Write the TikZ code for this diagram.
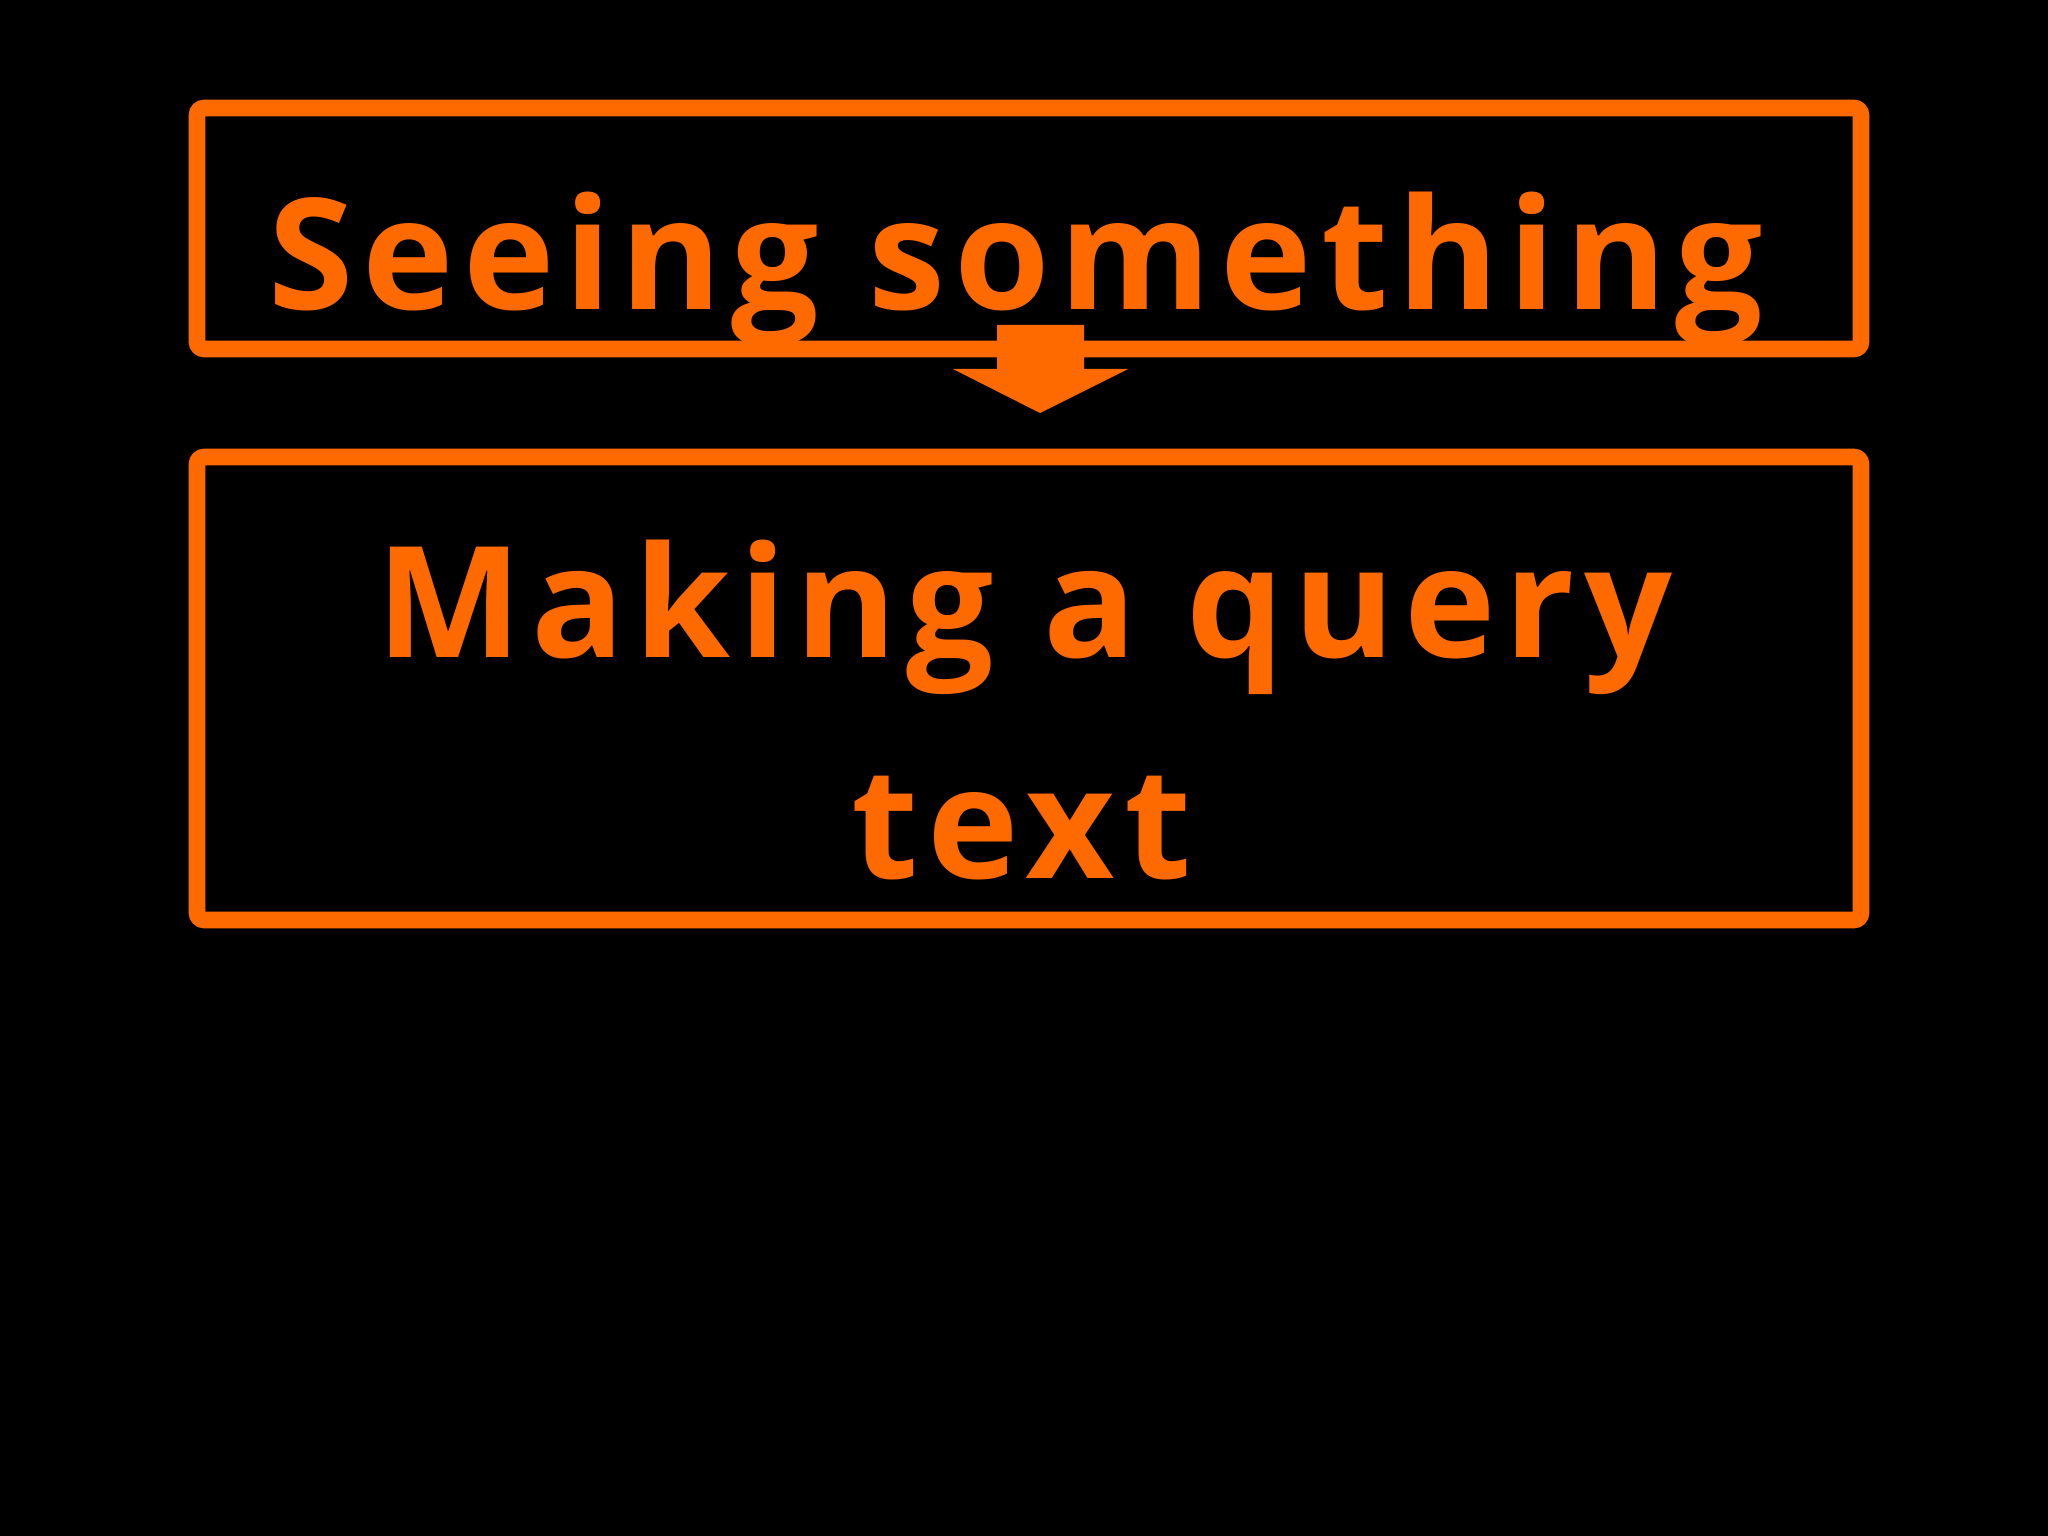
\documentclass[tikz,border=0pt]{standalone}
\usepackage{fontspec}
\setmainfont{Open Sans}[BoldFont={* Bold}]
\definecolor{orng}{RGB}{255,106,0}
\tikzset{
  framebox/.style={draw=orng, line width=4.7pt, rounded corners=2pt},
  bigtext/.style={text=orng, font=\bfseries\fontsize{44}{50}\selectfont\addfontfeature{LetterSpace=6}, inner sep=0pt, anchor=base},
}
\begin{document}
\begin{tikzpicture}
\fill[black] (0,0) rectangle (20.48,-15.36);
\useasboundingbox (0,0) rectangle (20.48,-15.36);
\draw[framebox] (1.97,-1.08) rectangle (18.61,-3.49);
\draw[framebox] (1.97,-4.57) rectangle (18.61,-9.20);
\node[bigtext] (t1) at (10.16,-3.10) {Seeing something};
\node[bigtext] (t2) at (10.245,-6.57) {Making a query};
\node[bigtext] (t3) at (10.215,-8.78) {text};
\fill[orng] (9.97,-3.25) -- (10.84,-3.25) -- (10.84,-3.69) -- (11.28,-3.69) -- (10.40,-4.13) -- (9.53,-3.69) -- (9.97,-3.69) -- cycle;
\end{tikzpicture}
\end{document}
